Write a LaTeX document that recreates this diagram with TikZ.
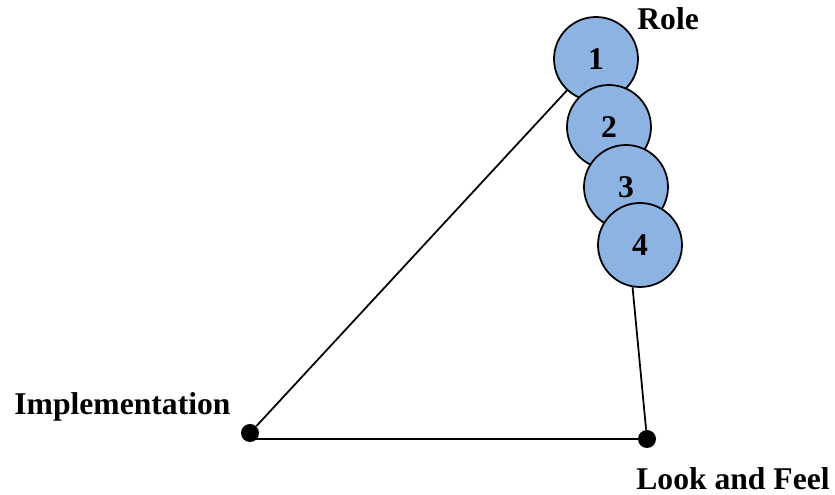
\documentclass[tikz,border=0pt]{standalone}
\usepackage{fontspec}
\setmainfont{Liberation Serif}
\usepackage{tikz}
\usetikzlibrary{backgrounds}
\definecolor{roleblue}{HTML}{8DB3E2}

\begin{document}
\begin{tikzpicture}[every node/.style={font=\fontsize{18}{21}\selectfont\bfseries},
	stage/.style={circle, draw, line width=1pt, fill=roleblue, minimum size=1.68cm, inner sep=0pt},
	dot/.style={circle, fill=black, minimum size=0.36cm, inner sep=0pt},
	link/.style={draw, line width=1pt}]
	\useasboundingbox (0,0) rectangle (16.7,9.9);
	\foreach \n/\x/\y in {1/11.92/8.72, 2/12.18/7.36, 3/12.52/6.16, 4/12.80/5.00} {
		\node[stage] (c\n) at (\x,\y) {\n};
	}
	\node[dot] (impl) at (5.0,1.24) {};
	\node[dot] (look) at (12.94,1.12) {};
	\node[anchor=base west, inner sep=0pt] (role) at (12.74,9.3) {Role};
	\node[anchor=base west, inner sep=0pt] (impltext) at (0.28,1.6) {Implementation};
	\node[anchor=base west, inner sep=0pt] (looktext) at (12.72,0.1) {Look and Feel};
	\begin{scope}[on background layer]
		\path[link] (impl) -- (c1.center);
		\path[link] (look.center) -- (look.center -| impl);
		\path[link] (look) -- (c4.260);
	\end{scope}
\end{tikzpicture}
\end{document}
